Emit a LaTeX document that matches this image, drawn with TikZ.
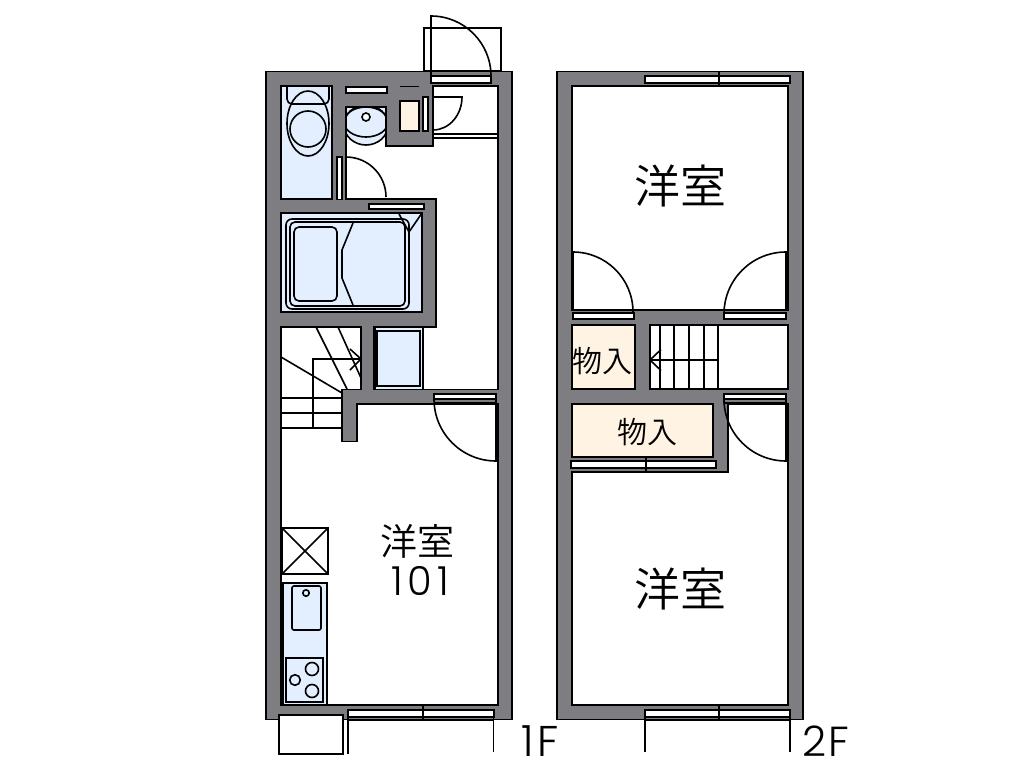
\documentclass[tikz,border=0pt]{standalone}
\usepackage{fontspec}
\setmainfont{Poppins Light}
\newfontfamily\cjk{Noto Sans CJK JP DemiLight}
\definecolor{wallc}{RGB}{126,125,130}
\definecolor{fixt}{RGB}{227,238,254}
\definecolor{cream}{RGB}{255,244,228}
\tikzset{
  ln/.style={draw=black,line width=1.6pt,line join=miter},
  thin ln/.style={draw=black,line width=1pt},
  wall/.style={ln,fill=wallc},
  room/.style={ln,fill=white},
  fixture/.style={ln,fill=fixt},
  store/.style={ln,fill=cream},
  slit/.style={ln,fill=white},
  lbl/.style={inner sep=0pt,text=black}
}
\begin{document}
\begin{tikzpicture}[x=1pt,y=1pt,yscale=-1]
\useasboundingbox (0,0) rectangle (1018,774);
% ===== 1F =====
\draw[ln,fill=white] (424,71) rectangle (501,28);
\draw[wall] (266,71.5) rectangle (512,719.5);
\draw[room] (346,107) -- (386,107) -- (386,146) -- (433,146) -- (433,86) -- (498,86) -- (498,389.5) -- (374,389.5) -- (374,327) -- (436,327) -- (436,199) -- (346,199) -- cycle;
\draw[room] (281,327) -- (361,327) -- (361,389.5) -- (342,389.5) -- (342,441.5) -- (357,441.5) -- (357,404) -- (498,404) -- (498,705) -- (281,705) -- cycle;
% toilet
\draw[fixture] (281,86) rectangle (332,199);
\draw[ln,rounded corners=5pt] (287,86) -- (287,104) -- (329,104) -- (329,86);
\draw[ln] (308,123.5) ellipse [x radius=21,y radius=32.5];
\draw[ln] (308,129) circle [radius=18];
% top slits
\draw[slit] (346,87) rectangle (387,93);
\draw[ln] (400,86.5) -- (419,86.5);
\draw[store] (400,101) rectangle (419,131);
\draw[slit] (423,97) rectangle (428,131);
\draw[slit] (337,157) rectangle (342,199.5);
% basin
\begin{scope}
\clip (346,107) rectangle (386,146);
\fill[fixt] (346,107) rectangle (386,125);
\fill[fixt] (366,125) ellipse [x radius=21,y radius=20];
\draw[ln] (366,125) ellipse [x radius=22,y radius=20];
\draw[ln] (366,122) ellipse [x radius=22,y radius=15];
\end{scope}
\draw[ln] (346,107) -- (386,107) -- (386,146);
\draw[ln] (346,107) -- (346,199);
\draw[ln,fill=white] (366,117) circle [radius=4];
% doors upper
\draw[ln] (346,157) arc [start angle=-90,end angle=0,radius=40pt];
\draw[ln] (433,97) -- (462,97) arc [start angle=0,end angle=90,x radius=29pt,y radius=33pt];
\draw[ln] (433,134) -- (498,134);
\draw[ln] (433,138) -- (498,138);
% entrance door
\draw[slit] (431,76) rectangle (491,83);
\draw[ln] (431,83) -- (431,16) arc [start angle=-90,end angle=0,radius=60pt];
% bath
\draw[fixture] (281,213) rectangle (422,312);
\draw[ln,rounded corners=6pt] (286,219) rectangle (409,309);
\draw[ln,rounded corners=5pt] (290,222) rectangle (405,306);
\draw[ln,rounded corners=5pt] (294,227) rectangle (337,301);
\draw[ln] (353,223) -- (342,250) -- (342,278) -- (353,305);
\draw[ln] (399,214) -- (409,232) -- (422,213);
\draw[slit] (369,204) rectangle (424,209);
% washer pan
\draw[thin ln,fill=fixt] (375,327) rectangle (423,389);
\draw[ln,line width=1.9pt] (377,331) rectangle (420,386);
\draw[ln] (375.5,327) -- (375.5,389);
\draw[ln] (423,327) -- (423,389);
% stairs 1F
\draw[ln] (281,398) -- (342,398);
\draw[ln] (281,413) -- (342,413);
\draw[ln] (281,428) -- (342,428);
\draw[ln] (313,428) -- (313,359) -- (361,359);
\draw[ln] (281,357) -- (342,393);
\draw[ln] (316,327) -- (347,389);
\draw[ln] (338,327) -- (361,378);
\draw[ln] (350,349) -- (361,359) -- (350,370);
% main door
\draw[slit] (434,394) rectangle (496,399);
\draw[ln] (434,403) -- (496,403);
\draw[ln] (496,394) -- (496,461) arc [start angle=90,end angle=180,radius=62pt] -- (434,394);
% shaft
\draw[ln,fill=white] (282,528) rectangle (328,574);
\draw[ln] (282,528) -- (328,574);
\draw[ln] (328,528) -- (282,574);
% kitchen
\draw[fixture] (283,583) rectangle (327,705);
\draw[ln,rounded corners=2pt] (292,586) rectangle (321,630);
\draw[ln] (306,593) circle [radius=3.2];
\draw[ln] (286,658) rectangle (323,702);
\draw[ln] (312,669) circle [radius=6.5];
\draw[ln] (312,691) circle [radius=6.5];
\draw[ln] (295,680) circle [radius=5.3];
\draw[ln,line width=2.2pt] (281.5,528) -- (281.5,574);
\draw[ln,line width=2.2pt] (282,583) -- (282,705);
% porch box, window
\draw[ln,fill=white] (279,715) rectangle (343,754);
\draw[slit] (348,710) rectangle (494,717);
\draw[ln] (348,720) -- (494,720);
\draw[ln] (348,710) -- (348,754);
\draw[ln] (493.5,710) -- (493.5,752);
\draw[ln] (423,705) -- (423,721);
% ===== 2F =====
\draw[wall] (557,71.5) rectangle (803,719.5);
\draw[room] (572,86) rectangle (788,310);
\draw[slit] (645,76) rectangle (790,83);
\draw[ln] (719,72) -- (719,86);
\draw[slit] (573,313) rectangle (634,319);
\draw[ln,line width=2.2pt] (573,310) -- (573,252);
\draw[ln] (573,252) arc [start angle=-90,end angle=0,radius=60pt];
\draw[slit] (724,313) rectangle (786,319);
\draw[ln] (786,310) -- (786,252) arc [start angle=-90,end angle=-180,radius=62pt];
\draw[store] (572,325) rectangle (635,389);
\draw[room] (650,325) rectangle (788,389);
\draw[ln] (660,325) -- (660,389);
\draw[ln] (674,325) -- (674,389);
\draw[ln] (689,325) -- (689,389);
\draw[ln] (704,325) -- (704,389);
\draw[ln] (718,325) -- (718,389);
\draw[ln] (650,360) -- (718,360);
\draw[ln] (661,349.5) -- (650,360) -- (661,370.5);
\draw[store] (572,404) rectangle (713,457);
\draw[room] (572,472) -- (728,472) -- (728,404) -- (788,404) -- (788,705) -- (572,705) -- cycle;
\draw[slit] (571,461) rectangle (716,468);
\draw[ln] (646,457) -- (646,473);
\draw[slit] (724,394) rectangle (786,399);
\draw[ln] (724,403) -- (786,403);
\draw[ln] (786,394) -- (786,461) arc [start angle=90,end angle=180,radius=62pt];
\draw[ln] (724,399) -- (724,403);
\draw[slit] (645,710) rectangle (790,717);
\draw[ln] (645,720) -- (790,720);
\draw[ln] (645,710) -- (645,752);
\draw[ln] (790,710) -- (790,752);
\draw[ln] (719,705) -- (719,721);
% ===== text =====
\node[lbl,font=\cjk\fontsize{46}{46}\selectfont] (roomA) at (680,186) {洋室};
\node[lbl,font=\cjk\fontsize{46}{46}\selectfont] (roomB) at (680,589) {洋室};
\node[lbl,font=\cjk\fontsize{37}{37}\selectfont] (roomC) at (417.5,541) {洋室};
\node[lbl,font=\fontsize{40}{40}\selectfont\addfontfeatures{LetterSpace=12}] (num) at (420,581) {101};
\node[lbl,font=\cjk\fontsize{30}{30}\selectfont] (st1) at (602.5,361) {物入};
\node[lbl,font=\cjk\fontsize{30}{30}\selectfont] (st2) at (647,432) {物入};
\node[lbl,font=\fontsize{43}{43}\selectfont\addfontfeatures{LetterSpace=8}] (f1) at (540,741) {1F};
\node[lbl,font=\fontsize{42}{42}\selectfont\addfontfeatures{LetterSpace=4}] (f2) at (826,741) {2F};
\end{tikzpicture}
\end{document}
